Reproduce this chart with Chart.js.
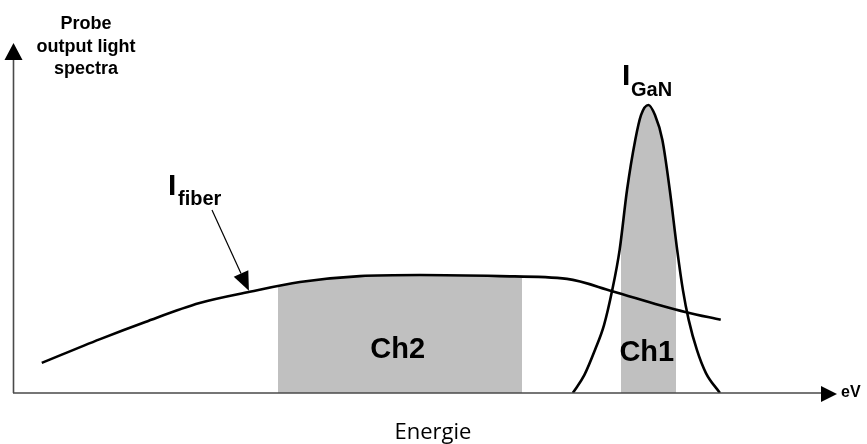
<!DOCTYPE html>
<html>
<head>
<meta charset="utf-8">
<script src="https://cdn.jsdelivr.net/npm/chart.js@4.4.1/dist/chart.umd.min.js"></script>
<style>
  html, body { margin: 0; padding: 0; background: #fff; }
  #wrap { width: 867px; height: 444px; position: relative; }
</style>
</head>
<body>
<div id="wrap"><canvas id="myChart"></canvas></div>
<script>
// energy axis in arbitrary units 0..100, intensity 0..100
const fiberX = [3.5, 10.6, 16.1, 22.7, 28.8, 34.9, 42.2, 49.5, 59.2, 67.4, 72.9, 78.7, 81.9, 86.1];
const fiberY = [8.6, 15.4, 20.3, 25.7, 28.9, 31.7, 33.4, 33.7, 33.4, 32.6, 29.1, 25.1, 23.1, 20.9];

const ganX = [68.1, 69.5, 70.8, 71.9, 72.9, 73.8, 74.7, 75.7, 76.4, 77.3, 78.1, 79.0, 79.9, 80.8, 81.5, 82.2, 83.2, 84.3, 86.0];
const ganY = [0, 5.1, 12.3, 19.4, 29.4, 40.9, 58.0, 72.3, 79.4, 82.3, 79.4, 72.3, 58.0, 40.9, 29.4, 20.9, 12.3, 5.7, 0];

// detector channels (energy windows)
const ch2Range = [32.2, 61.9];
const ch1Range = [74.0, 80.7];

const fiberPts = fiberX.map((x, i) => ({ x: x, y: fiberY[i] }));
const ganPts = ganX.map((x, i) => ({ x: x, y: ganY[i] }));

const GRAY = 'rgb(192,192,192)';
const NONE = 'rgba(192,192,192,0)';
const BOLD = '"Liberation Sans", Arial, sans-serif';

// gray only inside the channel window, transparent elsewhere
function windowFill(range) {
  return function(c) {
    const chart = c.chart;
    const xs = chart.scales.x;
    if (!chart.chartArea || !xs) return NONE;
    const w = chart.width;
    const f1 = Math.min(Math.max(xs.getPixelForValue(range[0]) / w, 0), 1);
    const f2 = Math.min(Math.max(xs.getPixelForValue(range[1]) / w, 0), 1);
    const g = chart.ctx.createLinearGradient(0, 0, w, 0);
    g.addColorStop(0, NONE);
    g.addColorStop(f1, NONE);
    g.addColorStop(f1, GRAY);
    g.addColorStop(f2, GRAY);
    g.addColorStop(f2, NONE);
    g.addColorStop(1, NONE);
    return g;
  };
}

// axes with arrow heads plus the labels
const sketch = {
  id: 'sketch',
  afterDatasetsDraw(chart) {
    const ctx = chart.ctx, a = chart.chartArea;
    const xs = chart.scales.x, ys = chart.scales.y;
    ctx.save();

    // axis lines
    ctx.strokeStyle = '#4a4a4a';
    ctx.lineWidth = 1.6;
    ctx.beginPath();
    ctx.moveTo(a.left + 0.5, a.bottom);
    ctx.lineTo(a.left + 0.5, a.top + 16);
    ctx.moveTo(a.left, a.bottom);
    ctx.lineTo(a.right - 14, a.bottom);
    ctx.stroke();

    ctx.fillStyle = '#000';
    ctx.beginPath();
    ctx.moveTo(a.left + 0.5, a.top);
    ctx.lineTo(a.left - 8.5, a.top + 17);
    ctx.lineTo(a.left + 9.5, a.top + 17);
    ctx.closePath();
    ctx.fill();
    ctx.beginPath();
    ctx.moveTo(a.right + 2, a.bottom + 1);
    ctx.lineTo(a.right - 14, a.bottom - 7);
    ctx.lineTo(a.right - 14, a.bottom + 9);
    ctx.closePath();
    ctx.fill();

    // pointer to the fiber curve
    const tipX = xs.getPixelForValue(28.7), tipY = ys.getPixelForValue(29.2);
    const sx = 212, sy = 210;
    const ang = Math.atan2(tipY - sy, tipX - sx);
    const len = 19, hw = 8;
    const bx = tipX - len * Math.cos(ang), by = tipY - len * Math.sin(ang);
    ctx.strokeStyle = '#000';
    ctx.lineWidth = 1.2;
    ctx.beginPath();
    ctx.moveTo(sx, sy);
    ctx.lineTo(bx, by);
    ctx.stroke();
    ctx.beginPath();
    ctx.moveTo(tipX, tipY);
    ctx.lineTo(bx + hw * Math.sin(ang), by - hw * Math.cos(ang));
    ctx.lineTo(bx - hw * Math.sin(ang), by + hw * Math.cos(ang));
    ctx.closePath();
    ctx.fill();

    // texts
    ctx.fillStyle = '#000';
    ctx.textBaseline = 'alphabetic';
    ctx.textAlign = 'center';
    ctx.font = 'bold 18px ' + BOLD;
    ctx.fillText('Probe', 86, 29);
    ctx.fillText('output light', 86, 52);
    ctx.fillText('spectra', 86, 74);

    ctx.font = 'bold 29px ' + BOLD;
    const c2 = (xs.getPixelForValue(ch2Range[0]) + xs.getPixelForValue(ch2Range[1])) / 2;
    const c1 = (xs.getPixelForValue(ch1Range[0]) + xs.getPixelForValue(ch1Range[1])) / 2;
    ctx.fillText('Ch2', c2 - 2, 358);
    ctx.fillText('Ch1', c1 - 2, 361);

    ctx.textAlign = 'left';
    ctx.font = 'bold 30px ' + BOLD;
    ctx.fillText('I', 168, 195);
    ctx.fillText('I', 622, 85);
    ctx.font = 'bold 20px ' + BOLD;
    ctx.fillText('fiber', 178, 205);
    ctx.fillText('GaN', 631, 96);

    ctx.font = 'bold 16px ' + BOLD;
    ctx.fillText('eV', 841, 397);

    ctx.textAlign = 'center';
    ctx.font = '22px "Open Sans", sans-serif';
    ctx.fillText('Energie', 433, 439);

    ctx.restore();
  }
};

const config = {
  type: 'line',
  data: {
    datasets: [
      {
        label: 'Ch2', data: fiberPts,
        fill: 'origin', backgroundColor: windowFill(ch2Range), borderWidth: 0, borderColor: 'rgba(0,0,0,0)',
        pointRadius: 0, cubicInterpolationMode: 'monotone', order: 3
      },
      {
        label: 'Ch1', data: ganPts,
        fill: 'origin', backgroundColor: windowFill(ch1Range), borderWidth: 0, borderColor: 'rgba(0,0,0,0)',
        pointRadius: 0, cubicInterpolationMode: 'monotone', order: 3
      },
      {
        label: 'I fiber', data: fiberPts, fill: false,
        borderColor: '#000', borderWidth: 2.6, pointRadius: 0,
        cubicInterpolationMode: 'monotone', order: 1
      },
      {
        label: 'I GaN', data: ganPts, fill: false,
        borderColor: '#000', borderWidth: 2.6, pointRadius: 0,
        cubicInterpolationMode: 'monotone', order: 1
      }
    ]
  },
  options: {
    responsive: true,
    maintainAspectRatio: false,
    animation: false,
    layout: { padding: { left: 13, right: 32, top: 43, bottom: 51 } },
    plugins: { legend: { display: false }, tooltip: { enabled: false } },
    scales: {
      x: { type: 'linear', min: 0, max: 100, display: false },
      y: { type: 'linear', min: 0, max: 100, display: false }
    }
  },
  plugins: [sketch]
};

const myChart = new Chart(document.getElementById('myChart'), config);
</script>
</body>
</html>
